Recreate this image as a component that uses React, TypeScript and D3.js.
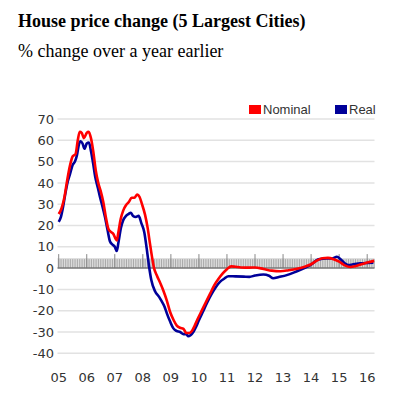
import React from 'react';
import { scaleLinear, line, curveMonotoneX, range } from 'd3';

const title = 'House price change (5 Largest Cities)';
const subtitle = '% change over a year earlier';

const yearTicks = [2005, 2006, 2007, 2008, 2009, 2010, 2011, 2012, 2013, 2014, 2015, 2016];
const yearLabels = ['05', '06', '07', '08', '09', '10', '11', '12', '13', '14', '15', '16'];
const valueTicks = [70, 60, 50, 40, 30, 20, 10, 0, -10, -20, -30, -40];

// [decimal year, % change]
const nominal: [number, number][] = [
	[2005.0, 25.4], [2005.1, 28], [2005.2, 33], [2005.3, 41], [2005.4, 48],
	[2005.5, 52.5], [2005.6, 53.5], [2005.68, 60], [2005.75, 64], [2005.82, 63.5],
	[2005.9, 61], [2006.0, 63.5], [2006.07, 64], [2006.15, 61], [2006.23, 55],
	[2006.32, 46], [2006.41, 40], [2006.5, 36], [2006.59, 31], [2006.68, 24],
	[2006.77, 18.5], [2006.86, 17], [2006.95, 16], [2007.02, 14], [2007.07, 13],
	[2007.13, 17], [2007.21, 23], [2007.3, 27], [2007.4, 29.5], [2007.5, 31],
	[2007.6, 33], [2007.7, 33], [2007.8, 34.5], [2007.88, 33.5], [2007.97, 30],
	[2008.08, 25], [2008.17, 19], [2008.26, 11], [2008.33, 5], [2008.4, 0],
	[2008.5, -3.5], [2008.62, -7], [2008.73, -10.5], [2008.85, -15], [2008.97, -20.5],
	[2009.1, -24.5], [2009.21, -27], [2009.33, -28], [2009.45, -28.5], [2009.55, -30.5],
	[2009.65, -30.5], [2009.75, -29.5], [2009.85, -27], [2009.95, -24], [2010.1, -20],
	[2010.25, -16], [2010.4, -12], [2010.55, -8], [2010.7, -5], [2010.85, -2.5],
	[2011.0, -0.5], [2011.15, 0.8], [2011.3, 0.6], [2011.5, 0.3], [2011.8, 0.2],
	[2012.0, 0.3], [2012.3, -0.4], [2012.6, -1.2], [2012.9, -1.5], [2013.2, -1.0],
	[2013.5, -0.3], [2013.8, 0.8], [2014.0, 1.8], [2014.2, 3.5], [2014.4, 4.6],
	[2014.6, 4.8], [2014.8, 4.2], [2015.0, 3.0], [2015.2, 1.3], [2015.4, 0.5],
	[2015.6, 1.0], [2015.8, 1.8], [2016.0, 2.6], [2016.25, 3.4],
];

const real: [number, number][] = [
	[2005.0, 21.7], [2005.08, 24], [2005.16, 29], [2005.25, 36], [2005.33, 41],
	[2005.4, 44], [2005.5, 48.5], [2005.58, 50], [2005.65, 53], [2005.72, 58],
	[2005.78, 59.5], [2005.85, 58.5], [2005.92, 56], [2006.0, 58.5], [2006.08, 59],
	[2006.15, 55], [2006.23, 49], [2006.3, 43], [2006.4, 37.5], [2006.47, 33.5],
	[2006.56, 29], [2006.65, 24], [2006.74, 18], [2006.83, 12.5], [2006.92, 11],
	[2007.0, 10], [2007.07, 8], [2007.13, 12], [2007.22, 19], [2007.3, 22.5],
	[2007.4, 24.5], [2007.5, 25.5], [2007.57, 26], [2007.65, 24.5], [2007.75, 24],
	[2007.85, 24.5], [2007.95, 21], [2008.05, 17], [2008.14, 9], [2008.22, 1],
	[2008.3, -5.5], [2008.44, -11], [2008.58, -13.5], [2008.67, -15.5], [2008.77, -18],
	[2008.85, -21], [2008.97, -25], [2009.09, -28.3], [2009.2, -29.5], [2009.33, -30],
	[2009.45, -31], [2009.55, -31], [2009.62, -32], [2009.7, -31.5], [2009.8, -30],
	[2009.9, -27.5], [2010.0, -24.5], [2010.16, -20], [2010.3, -16], [2010.46, -12],
	[2010.6, -9], [2010.75, -6.5], [2010.9, -5], [2011.05, -3.8], [2011.3, -3.9],
	[2011.6, -4.0], [2011.8, -4.1], [2012.0, -3.5], [2012.3, -3.0], [2012.5, -3.6],
	[2012.65, -4.8], [2012.85, -4.2], [2013.13, -3.3], [2013.4, -2.0], [2013.6, -0.9],
	[2013.8, 0.3], [2014.0, 1.6], [2014.26, 4.1], [2014.56, 4.5], [2014.75, 4.5],
	[2014.92, 5.3], [2015.05, 4.2], [2015.2, 2.3], [2015.33, 1.4], [2015.5, 1.8],
	[2015.75, 2.2], [2016.0, 2.4], [2016.22, 2.5],
];

const seriesNames = ['Nominal', 'Real'];
const seriesColors = ['#ff0000', '#000099'];

export default function App() {
	const width = 399;
	const height = 393;

	const x = scaleLinear().domain([2005, 2016.25]).range([58.7, 374.2]);
	const y = scaleLinear().domain([-40, 70]).range([353.3, 119]);
	const x0 = 57.5;
	const x1 = 374.5;
	const zeroY = y(0);

	const path = line<[number, number]>()
		.x((d) => x(d[0]))
		.y((d) => y(d[1]))
		.curve(curveMonotoneX);

	const months = range(0, 136).map((m) => 2005 + m / 12);
	const axisFont = '"DejaVu Sans", Verdana, sans-serif';
	const serif = '"Liberation Serif", "Times New Roman", serif';

	return (
		<svg
			width={width}
			height={height}
			style={{ position: 'absolute', left: 0, top: 0, background: '#fff' }}
		>
			<text x={18} y={26.5} fontFamily={serif} fontWeight="bold" fontSize={18} fill="#000">
				{title}
			</text>
			<text x={18} y={56.5} fontFamily={serif} fontSize={18} fill="#000">
				{subtitle}
			</text>

			{/* legend */}
			{seriesNames.map((name, i) => {
				const lx = i === 0 ? 249 : 335;
				return (
					<g key={name}>
						<rect x={lx} y={105} width={12} height={9} fill={seriesColors[i]} />
						<text x={lx + 14} y={114} fontFamily='"Liberation Sans", Arial, sans-serif' fontSize={13} fill="#333">
							{name}
						</text>
					</g>
				);
			})}

			{/* grid */}
			{valueTicks
				.filter((v) => v !== 0)
				.map((v) => (
					<line key={v} x1={x0} x2={x1} y1={y(v)} y2={y(v)} stroke="#e2e2e2" strokeWidth={1.5} />
				))}
			{valueTicks.map((v) => (
				<text key={v} x={54} y={y(v)} dy="0.36em" textAnchor="end" fontFamily={axisFont} fontSize={13} fill="#333">
					{v}
				</text>
			))}

			{/* zero axis strip */}
			<rect x={x0} y={zeroY - 10} width={x1 - x0} height={10} fill="#dcdcdc" />
			{months.map((m, i) => (
				<line key={i} x1={x(m)} x2={x(m)} y1={zeroY - 9} y2={zeroY} stroke="#9a9a9a" strokeWidth={0.8} />
			))}
			{yearTicks.map((t) => (
				<line key={t} x1={x(t)} x2={x(t)} y1={zeroY - 14} y2={zeroY} stroke="#888" strokeWidth={1} />
			))}
			<line x1={x0} x2={x1} y1={zeroY} y2={zeroY} stroke="#777" strokeWidth={1.5} />

			{yearTicks.map((t, i) => (
				<text key={t} x={x(t)} y={381.5} textAnchor="middle" fontFamily={axisFont} fontSize={13} fill="#333">
					{yearLabels[i]}
				</text>
			))}

			<path d={path(real) ?? ''} fill="none" stroke={seriesColors[1]} strokeWidth={2.6} strokeLinejoin="round" />
			<path d={path(nominal) ?? ''} fill="none" stroke={seriesColors[0]} strokeWidth={2.6} strokeLinejoin="round" />
		</svg>
	);
}
